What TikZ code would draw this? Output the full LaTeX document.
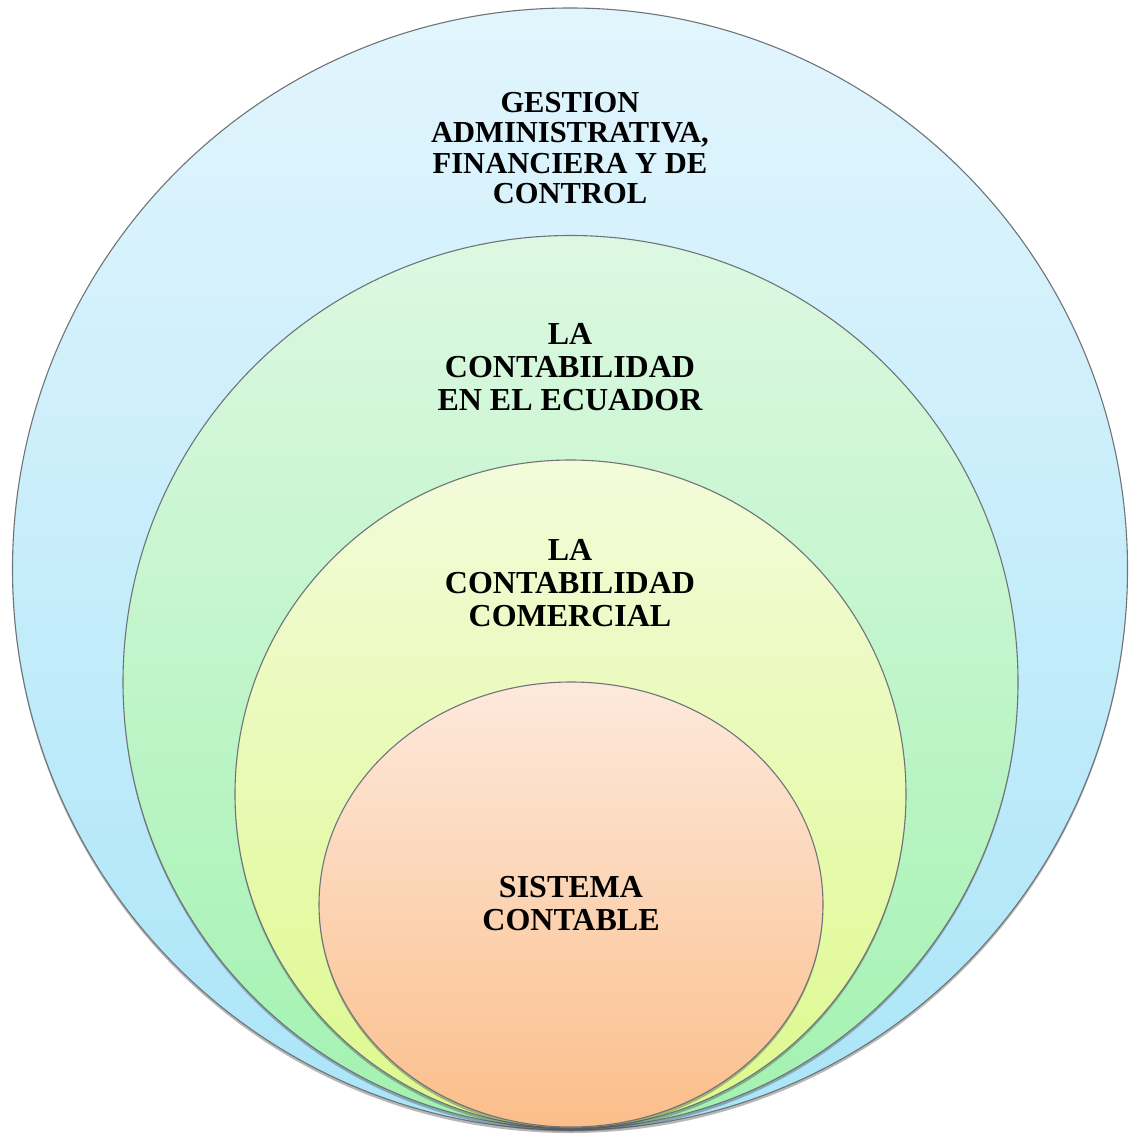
\documentclass[tikz,border=0pt]{standalone}
\usepackage{fontspec}
\setmainfont{Liberation Serif}
\usetikzlibrary{shapes.geometric,shadows}
\definecolor{blueT}{HTML}{E2F5FD}
\definecolor{blueB}{HTML}{AAE5F8}
\definecolor{greenT}{HTML}{DDF8E2}
\definecolor{greenB}{HTML}{A2F2B0}
\definecolor{yellowT}{HTML}{F3FBDA}
\definecolor{yellowB}{HTML}{DDF98C}
\definecolor{orangeT}{HTML}{FDE9DC}
\definecolor{orangeB}{HTML}{FBBE8A}
\definecolor{rim}{HTML}{6E7478}
\tikzset{
  ring/.style={ellipse, inner sep=0pt, draw=rim, line width=1.1pt,
    drop shadow={shadow xshift=0pt, shadow yshift=-3pt, opacity=0.4, fill=black!70}},
  outerlabel/.style={align=center, font=\bfseries\fontsize{30.5}{30.5}\selectfont},
  innerlabel/.style={align=center, font=\bfseries\fontsize{32}{33}\selectfont}
}
\begin{document}
\begin{tikzpicture}[x=1pt,y=-1pt]
\useasboundingbox (0,0) rectangle (1135,1133);
\fill[white] (0,0) rectangle (1135,1133);
\node[ring, top color=blueT, bottom color=blueB, minimum width=1115pt, minimum height=1122pt] (c1) at (570,569) {};
\node[ring, top color=greenT, bottom color=greenB, minimum width=895pt, minimum height=893pt] (c2) at (570.5,682) {};
\node[ring, top color=yellowT, bottom color=yellowB, minimum width=671pt, minimum height=668pt] (c3) at (570.5,794) {};
\node[ring, top color=orangeT, bottom color=orangeB, minimum width=504pt, minimum height=445pt] (c4) at (571,904.5) {};
\node[outerlabel] (t1) at (570,148) {GESTION\\ADMINISTRATIVA,\\FINANCIERA Y DE\\CONTROL};
\node[innerlabel] (t2) at (570,367) {LA\\CONTABILIDAD\\EN EL ECUADOR};
\node[innerlabel] (t3) at (570,583) {LA\\CONTABILIDAD\\COMERCIAL};
\node[innerlabel] (t4) at (571,904) {SISTEMA\\CONTABLE};
\end{tikzpicture}
\end{document}
